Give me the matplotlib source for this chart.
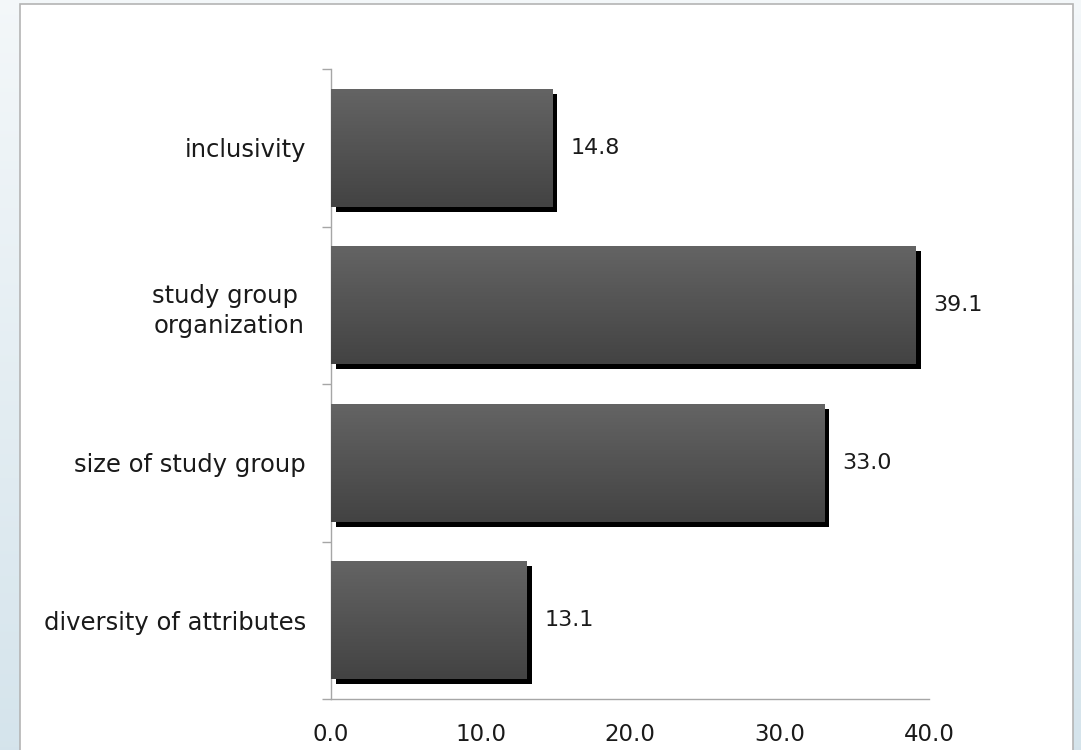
import numpy as np
import matplotlib
matplotlib.use('Agg')
import matplotlib.pyplot as plt
from matplotlib.patches import Rectangle
import matplotlib.patheffects as pe

categories = ['diversity of attributes', 'size of study group', 'study group \norganization', 'inclusivity']
values = [13.1, 33.0, 39.1, 14.8]
xticks = [0, 10, 20, 30, 40]

W, H = 1081, 750
fig = plt.figure(figsize=(W / 100, H / 100), dpi=100)

# backdrop: pale blue gradient behind a white panel
bg = fig.add_axes([0, 0, 1, 1], zorder=-5)
grad = np.linspace(0, 1, 256).reshape(-1, 1)
top = np.array([0.955, 0.970, 0.978])
bot = np.array([0.835, 0.894, 0.925])
img = top + (bot - top) * grad[:, :, None]
bg.imshow(img, extent=[0, 1, 0, 1], aspect='auto', origin='upper')
bg.add_patch(Rectangle((20 / W, -0.01), 1053 / W, (H - 4) / H + 0.01, facecolor='white',
                       edgecolor='#b4b4b4', linewidth=1.2))
bg.set_xlim(0, 1)
bg.set_ylim(0, 1)
bg.axis('off')

ax = fig.add_axes([331 / W, 1 - 699 / H, (929 - 331) / W, (699 - 69) / H])
ax.patch.set_alpha(0)

y = np.arange(len(categories))
bar_h = 0.75
bars = ax.barh(y, values, height=bar_h, color='#555555', zorder=2)
shadow = [pe.SimplePatchShadow(offset=(3.6, -3.6), shadow_rgbFace='black', alpha=1.0), pe.Normal()]
bar_grad = np.linspace(0, 1, 100).reshape(-1, 1)
cmap = matplotlib.colors.LinearSegmentedColormap.from_list('g', ['#646464', '#434343'])
for b, v, yy in zip(bars, values, y):
    b.set_path_effects(shadow)
    im = ax.imshow(bar_grad, extent=[0, v, yy - bar_h / 2, yy + bar_h / 2], aspect='auto',
                   cmap=cmap, origin='upper', zorder=3)
    im.set_clip_path(b)
    ax.annotate(f'{v:.1f}', (v, yy), xytext=(13, 0), textcoords='offset points',
                va='center', ha='left', fontsize=16, color='#1a1a1a')

ax.set_xlim(0, 40)
ax.set_ylim(-0.5, len(categories) - 0.5)
ax.set_xticks(xticks)
ax.set_xticklabels([f'{t:.1f}' for t in xticks], fontsize=16.5, color='#1a1a1a')
ax.tick_params(axis='x', length=0, pad=17)

ax.set_yticks(np.arange(len(categories) + 1) - 0.5)
ax.set_yticklabels([])
ax.tick_params(axis='y', which='major', length=6.5, color='#a6a6a6', width=1)
ax.set_yticks(y, minor=True)
ax.set_yticklabels(categories, minor=True, fontsize=17.5, color='#1a1a1a',
                   multialignment='center', linespacing=1.35)
ax.tick_params(axis='y', which='minor', length=0, pad=18)

for s in ['top', 'right']:
    ax.spines[s].set_visible(False)
for s in ['left', 'bottom']:
    ax.spines[s].set_color('#a6a6a6')
    ax.spines[s].set_linewidth(1)

fig.savefig('out.png', dpi=100)
